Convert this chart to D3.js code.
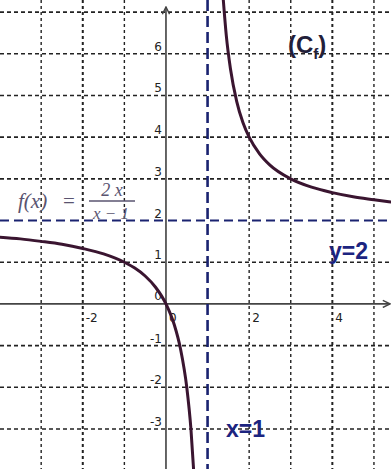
<!DOCTYPE html>
<html>
<head>
<meta charset="utf-8">
<script src="https://cdn.jsdelivr.net/npm/d3@7"></script>
<style>
  html, body { margin: 0; padding: 0; background: #fff; }
  svg { display: block; }
</style>
</head>
<body>
<div id="chart"></div>
<script>
// grid / tick values
var gridX = [-3, -2, -1, 0, 1, 2, 3, 4, 5];
var gridY = [-3, -2, -1, 0, 1, 2, 3, 4, 5, 6, 7];
var xTickLabels = [-2, 0, 2, 4];
var yTickLabels = [-3, -2, -1, 1, 2, 3, 4, 5, 6];

// curve points (left branch, right branch)
var leftX = [-4, -3.5, -3, -2.5, -2, -1.5, -1, -0.75, -0.5, -0.25, 0, 0.2, 0.35, 0.5, 0.6, 0.67];
var leftY = [1.6, 1.56, 1.5, 1.43, 1.33, 1.2, 1.0, 0.86, 0.67, 0.4, 0, -0.5, -1.08, -2, -3, -4.06];
var rightX = [1.37, 1.45, 1.55, 1.7, 1.85, 2, 2.25, 2.5, 3, 3.5, 4, 4.5, 5, 5.45];
var rightY = [7.4, 6.44, 5.64, 4.86, 4.35, 4, 3.6, 3.33, 3, 2.8, 2.67, 2.57, 2.5, 2.44];

// asymptotes
var vAsymptote = 1;
var hAsymptote = 2;

var width = 391, height = 469;

var svg = d3.select("#chart").append("svg")
    .attr("width", width)
    .attr("height", height);

var x = d3.scaleLinear().domain([-3.99, 5.41]).range([0, width]);
var y = d3.scaleLinear().domain([7.29, -3.96]).range([0, height]);

// dashed grid
svg.append("g")
    .selectAll("line")
    .data(gridX.filter(function(d) { return d !== 0 && d !== vAsymptote; }))
    .enter().append("line")
        .attr("x1", function(d) { return x(d); })
        .attr("x2", function(d) { return x(d); })
        .attr("y1", 0)
        .attr("y2", height)
        .attr("stroke", "#222")
        .attr("stroke-width", function(d) { return (d === -2 || d === 4) ? 2 : 1.4; })
        .attr("stroke-dasharray", "3,3");

svg.append("g")
    .selectAll("line")
    .data(gridY.filter(function(d) { return d !== 0 && d !== hAsymptote; }))
    .enter().append("line")
        .attr("x1", 0)
        .attr("x2", width)
        .attr("y1", function(d) { return y(d); })
        .attr("y2", function(d) { return y(d); })
        .attr("stroke", "#222")
        .attr("stroke-width", 1.6)
        .attr("stroke-dasharray", "4,3");

// axes with arrows
svg.append("defs").append("marker")
    .attr("id", "arrow")
    .attr("viewBox", "0 0 10 10")
    .attr("refX", 9).attr("refY", 5)
    .attr("markerWidth", 9).attr("markerHeight", 9)
    .attr("markerUnits", "userSpaceOnUse")
    .attr("orient", "auto")
    .append("path")
        .attr("d", "M1,1 L9,5 L1,9")
        .attr("fill", "none")
        .attr("stroke", "#444")
        .attr("stroke-width", 1.6);

svg.append("line")
    .attr("x1", 0).attr("x2", width - 1)
    .attr("y1", y(0)).attr("y2", y(0))
    .attr("stroke", "#444").attr("stroke-width", 1.6)
    .attr("marker-end", "url(#arrow)");

svg.append("line")
    .attr("x1", x(0)).attr("x2", x(0))
    .attr("y1", height).attr("y2", 7)
    .attr("stroke", "#555").attr("stroke-width", 1.8)
    .attr("marker-end", "url(#arrow)");

// asymptotes
svg.append("line")
    .attr("x1", x(vAsymptote)).attr("x2", x(vAsymptote))
    .attr("y1", 0).attr("y2", height)
    .attr("stroke", "#1a2370").attr("stroke-width", 2.6)
    .attr("stroke-dasharray", "11,5");

svg.append("line")
    .attr("x1", 0).attr("x2", width)
    .attr("y1", y(hAsymptote)).attr("y2", y(hAsymptote))
    .attr("stroke", "#1a2370").attr("stroke-width", 2)
    .attr("stroke-dasharray", "9,5");

// tick labels
svg.append("g")
    .selectAll("text")
    .data(yTickLabels)
    .enter().append("text")
        .attr("x", x(0) - 4)
        .attr("y", function(d) { return y(d) - 3; })
        .attr("text-anchor", "end")
        .attr("font-family", "DejaVu Sans, sans-serif")
        .attr("font-size", 12)
        .attr("fill", "#222")
        .text(function(d) { return d; });

svg.append("g")
    .selectAll("text")
    .data(xTickLabels)
    .enter().append("text")
        .attr("x", function(d) { return x(d) + 3; })
        .attr("y", y(0) + 18)
        .attr("font-family", "DejaVu Sans, sans-serif")
        .attr("font-size", 12)
        .attr("fill", "#222")
        .text(function(d) { return d; });

// origin label above-left
svg.append("text")
    .attr("x", x(0) - 4).attr("y", y(0) - 4)
    .attr("text-anchor", "end")
    .attr("font-family", "DejaVu Sans, sans-serif")
    .attr("font-size", 12).attr("fill", "#222")
    .text("0");

// curve
var line = d3.line()
    .x(function(d) { return x(d[0]); })
    .y(function(d) { return y(d[1]); })
    .curve(d3.curveMonotoneX);

[[leftX, leftY], [rightX, rightY]].forEach(function(branch) {
    var pts = branch[0].map(function(v, i) { return [v, branch[1][i]]; });
    svg.append("path")
        .datum(pts)
        .attr("d", line)
        .attr("fill", "none")
        .attr("stroke", "#3a1530")
        .attr("stroke-width", 3);
});

// labels
var cf = svg.append("text")
    .attr("x", 288).attr("y", 53)
    .attr("font-family", "Liberation Sans, Arial, sans-serif")
    .attr("font-weight", "bold")
    .attr("font-size", 24)
    .attr("fill", "#22203a");
cf.append("tspan").text("(C");
cf.append("tspan").attr("font-size", 15).attr("dy", 6).text("f");
cf.append("tspan").attr("dy", -6).text(")");

svg.append("text")
    .attr("x", 329).attr("y", 259)
    .attr("font-family", "Liberation Sans, Arial, sans-serif")
    .attr("font-weight", "bold")
    .attr("font-size", 23)
    .attr("fill", "#1c2480")
    .text("y=2");

svg.append("text")
    .attr("x", 226).attr("y", 437)
    .attr("font-family", "Liberation Sans, Arial, sans-serif")
    .attr("font-weight", "bold")
    .attr("font-size", 23)
    .attr("fill", "#1c2480")
    .text("x=1");

// formula
var fg = svg.append("g")
    .attr("font-family", "Liberation Serif, DejaVu Serif, serif")
    .attr("font-style", "italic")
    .attr("fill", "#5a5470");
fg.append("text").attr("x", 18).attr("y", 208).attr("font-size", 21).text("f(x)");
fg.append("text").attr("x", 63).attr("y", 208).attr("font-size", 21).attr("font-style", "normal").text("=");
fg.append("text").attr("x", 112).attr("y", 196).attr("text-anchor", "middle").attr("font-size", 18).text("2 x");
fg.append("line").attr("x1", 89).attr("x2", 135).attr("y1", 201).attr("y2", 201)
    .attr("stroke", "#5a5470").attr("stroke-width", 1.3);
fg.append("text").attr("x", 111).attr("y", 219).attr("text-anchor", "middle").attr("font-size", 17).text("x − 1");
</script>
</body>
</html>
